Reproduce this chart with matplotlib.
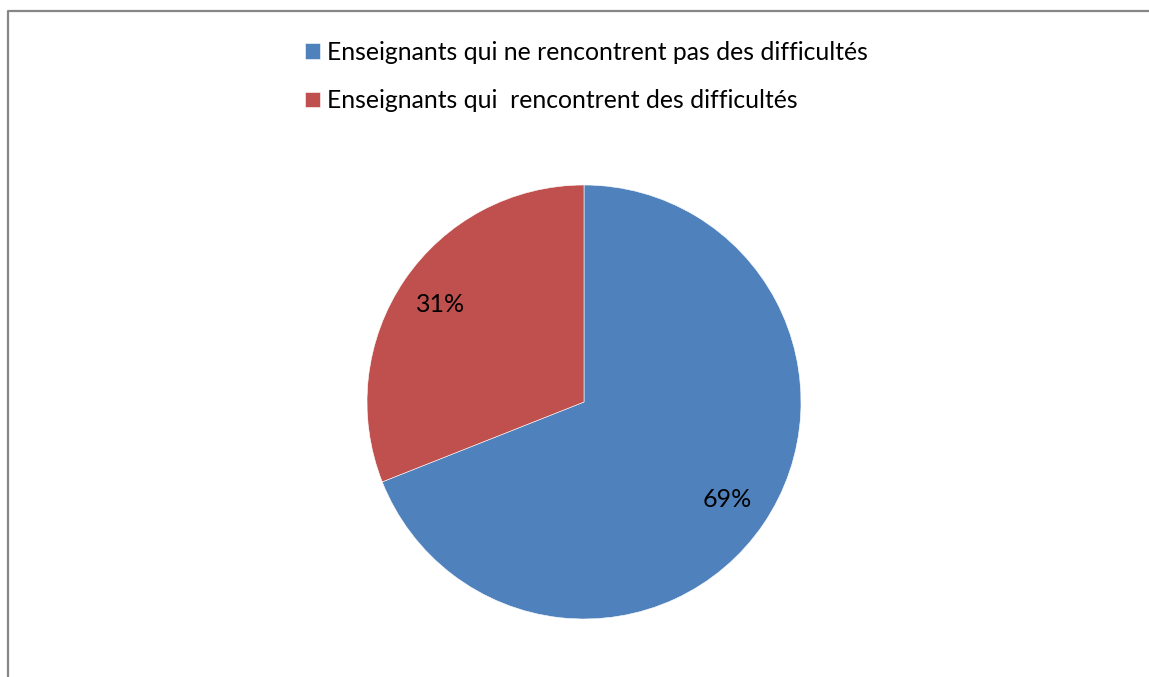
import matplotlib.pyplot as plt
from matplotlib.lines import Line2D

# data
labels = ["Enseignants qui ne rencontrent pas des difficultés",
          "Enseignants qui  rencontrent des difficultés"]
values = [69, 31]
colors = ["#4F81BD", "#C0504D"]

W, H = 1149, 677
fig = plt.figure(figsize=(W / 100, H / 100), dpi=100)
plt.rcParams["font.family"] = ["Lato", "DejaVu Sans"]

# chart frame (only left/top edges visible in the crop)
fig.add_artist(Line2D([8 / W, 8 / W, 1.0], [0.0, 1 - 11 / H, 1 - 11 / H],
                      transform=fig.transFigure, color="#868686", lw=1.6))

cx, cy, r = 584, 402, 217
ax = fig.add_axes([(cx - r) / W, (H - cy - r) / H, 2 * r / W, 2 * r / H])
wedges, texts, autotexts = ax.pie(values, colors=colors, startangle=90, counterclock=False,
                                  autopct="%d%%", pctdistance=0.80,
                                  wedgeprops=dict(edgecolor="white", linewidth=0.4),
                                  textprops=dict(fontsize=18, color="black"))
ax.set_xlim(-1, 1)
ax.set_ylim(-1, 1)

fig.legend(wedges, labels, loc="upper left", bbox_to_anchor=(305 / W, 1 - 41 / H),
           frameon=False, fontsize=17.8, handlelength=0.6, handleheight=0.6,
           handletextpad=0.3, labelspacing=1.02, borderpad=0, borderaxespad=0)

fig.savefig("out.png", dpi=100)
